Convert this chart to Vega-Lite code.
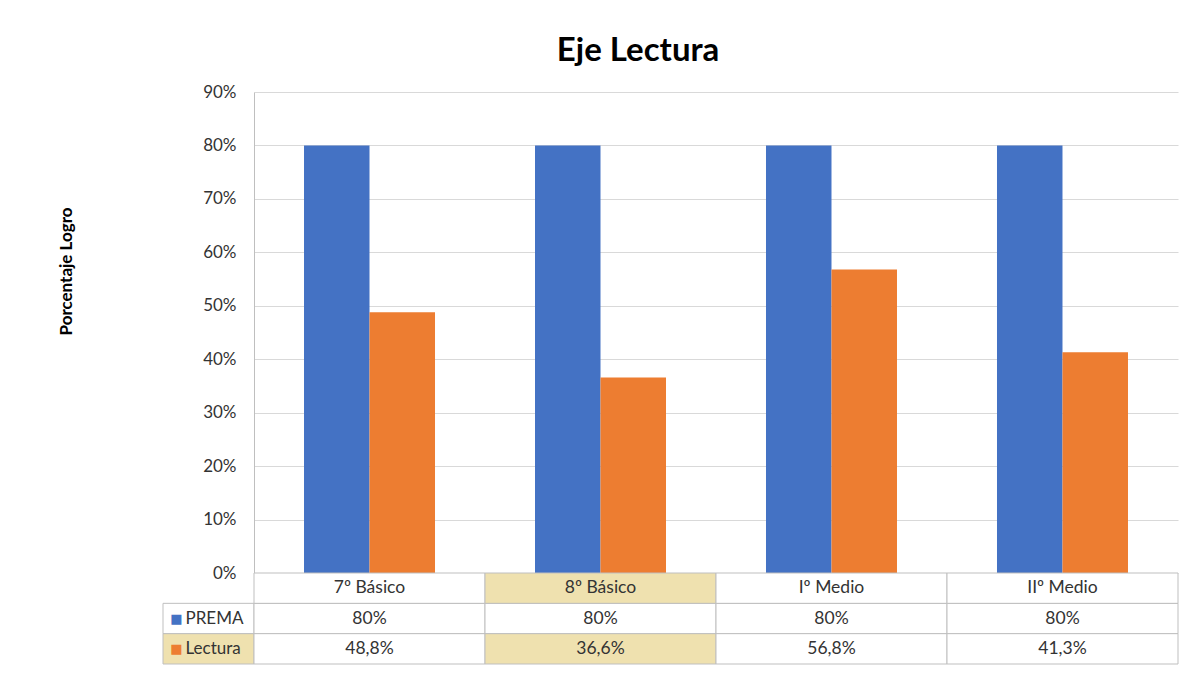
{
  "$schema": "https://vega.github.io/schema/vega-lite/v6.json",
  "padding": {"left": 57, "top": 35, "right": 10, "bottom": 10},
  "background": "white",
  "config": {
    "view": {"stroke": null},
    "font": "Lato",
    "locale": {"number": {"decimal": ",", "thousands": ".", "grouping": [3], "currency": ["", "€"]}}
  },
  "datasets": {
    "datos": [
      {"curso": "7º Básico", "serie": "PREMA", "valor": 0.80},
      {"curso": "7º Básico", "serie": "Lectura", "valor": 0.488},
      {"curso": "8º Básico", "serie": "PREMA", "valor": 0.80},
      {"curso": "8º Básico", "serie": "Lectura", "valor": 0.366},
      {"curso": "Iº Medio", "serie": "PREMA", "valor": 0.80},
      {"curso": "Iº Medio", "serie": "Lectura", "valor": 0.568},
      {"curso": "IIº Medio", "serie": "PREMA", "valor": 0.80},
      {"curso": "IIº Medio", "serie": "Lectura", "valor": 0.413}
    ]
  },
  "title": {"text": "Eje Lectura", "fontSize": 33, "font": "Lato", "fontWeight": "bold", "color": "#000000", "anchor": "middle", "offset": 15, "dx": 20},
  "columns": 2,
  "spacing": 0,
  "bounds": "flush",
  "align": "each",
  "concat": [
    {
      "width": 91,
      "height": 481,
      "data": {"values": [{}]},
      "mark": {"type": "text"},
      "encoding": {"text": {"value": ""}}
    },
    {
      "width": 924,
      "height": 481,
      "data": {"name": "datos"},
      "mark": {"type": "bar"},
      "encoding": {
        "x": {"field": "curso", "type": "nominal", "sort": ["7º Básico", "8º Básico", "Iº Medio", "IIº Medio"],
              "scale": {"paddingInner": 0.4329, "paddingOuter": 0.2165}, "axis": null},
        "xOffset": {"field": "serie", "type": "nominal", "sort": ["PREMA", "Lectura"], "scale": {"paddingInner": 0, "paddingOuter": 0}},
        "y": {"field": "valor", "type": "quantitative", "scale": {"domain": [0, 0.9], "nice": false},
              "axis": {"values": [0, 0.1, 0.2, 0.3, 0.4, 0.5, 0.6, 0.7, 0.8, 0.9], "format": ".0%", "title": "Porcentaje Logro",
                       "titleFontSize": 17, "titleFont": "Lato", "titleFontWeight": "bold", "titleColor": "#000000", "titlePadding": 127, "titleY": 179,
                       "labelFontSize": 17, "labelFont": "Lato", "labelColor": "#333333", "labelPadding": 18, "ticks": false,
                       "domainColor": "#BFBFBF", "gridColor": "#D9D9D9", "grid": true}},
        "color": {"field": "serie", "type": "nominal", "scale": {"domain": ["PREMA", "Lectura"], "range": ["#4472C4", "#ED7D31"]}, "legend": null}
      }
    },
    {
      "width": 91,
      "height": 91,
      "data": {"name": "datos"},
      "transform": [{"filter": "datum.curso == '7º Básico'"}],
      "encoding": {
        "y": {"field": "serie", "type": "nominal", "scale": {"domain": ["Curso", "PREMA", "Lectura"], "paddingInner": 0, "paddingOuter": 0}, "axis": null}
      },
      "layer": [
        {
          "mark": {"type": "rect", "stroke": "#BFBFBF", "strokeWidth": 1},
          "encoding": {
            "fill": {"condition": {"test": "datum.serie == 'Lectura'", "value": "#EFE1AF"}, "value": "#FFFFFF"}
          }
        },
        {
          "mark": {"type": "text", "text": "■", "font": "DejaVu Sans", "fontSize": 13, "dx": -32},
          "encoding": {
            "color": {"field": "serie", "type": "nominal", "scale": {"domain": ["PREMA", "Lectura"], "range": ["#4472C4", "#ED7D31"]}, "legend": null}
          }
        },
        {
          "mark": {"type": "text", "align": "left", "dx": -23, "fontSize": 17, "font": "Lato", "color": "#333333"},
          "encoding": {"text": {"field": "serie"}}
        }
      ]
    },
    {
      "width": 924,
      "height": 91,
      "data": {"name": "datos"},
      "encoding": {
        "x": {"field": "curso", "type": "nominal", "sort": ["7º Básico", "8º Básico", "Iº Medio", "IIº Medio"],
              "scale": {"paddingInner": 0, "paddingOuter": 0}, "axis": null}
      },
      "layer": [
        {
          "mark": {"type": "rect", "stroke": "#BFBFBF", "strokeWidth": 1},
          "encoding": {
            "y": {"field": "serie", "type": "nominal", "scale": {"domain": ["Curso", "PREMA", "Lectura"], "paddingInner": 0, "paddingOuter": 0}, "axis": null},
            "fill": {"condition": {"test": "datum.curso == '8º Básico' && datum.serie == 'Lectura'", "value": "#EFE1AF"}, "value": "#FFFFFF"}
          }
        },
        {
          "transform": [{"filter": "datum.serie == 'PREMA'"}],
          "mark": {"type": "rect", "stroke": "#BFBFBF", "strokeWidth": 1},
          "encoding": {
            "y": {"datum": "Curso", "type": "nominal"},
            "fill": {"condition": {"test": "datum.curso == '8º Básico'", "value": "#EFE1AF"}, "value": "#FFFFFF"}
          }
        },
        {
          "mark": {"type": "text", "fontSize": 17.5, "font": "Lato", "color": "#333333"},
          "encoding": {
            "y": {"field": "serie", "type": "nominal"},
            "text": {"field": "valor", "type": "quantitative", "format": ".1~%"}
          }
        },
        {
          "transform": [{"filter": "datum.serie == 'PREMA'"}],
          "mark": {"type": "text", "fontSize": 17.5, "font": "Lato", "color": "#333333"},
          "encoding": {
            "y": {"datum": "Curso", "type": "nominal"},
            "text": {"field": "curso", "type": "nominal"}
          }
        }
      ]
    }
  ]
}
